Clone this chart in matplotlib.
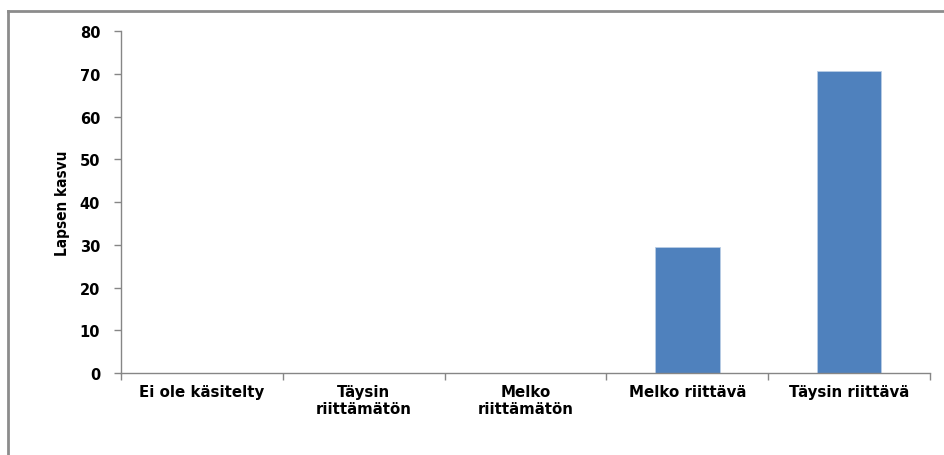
import matplotlib.pyplot as plt
import numpy as np
from matplotlib.lines import Line2D

categories = ['Ei ole käsitelty', 'Täysin\nriittämätön', 'Melko\nriittämätön',
              'Melko riittävä', 'Täysin riittävä']
values = [0, 0, 0, 29.4, 70.6]
yticks = [0, 10, 20, 30, 40, 50, 60, 70, 80]

fig = plt.figure(figsize=(9.44, 4.56), dpi=100)
ax = fig.add_axes([0.1282, 0.1798, 0.8568, 0.75])

x = np.arange(len(categories))
ax.bar(x, values, width=0.4, color='#4f81bd', edgecolor='#b9cde5', linewidth=0.6)

ax.set_xlim(-0.5, len(categories) - 0.5)
ax.set_ylim(0, 80)
ax.set_yticks(yticks)
ax.set_yticklabels([str(v) for v in yticks], fontsize=10.5, fontweight='bold',
                   family='DejaVu Sans')

# category labels between boundary ticks
ax.set_xticks(x)
ax.set_xticklabels(categories, fontsize=10.8, fontweight='bold', family='DejaVu Sans',
                   linespacing=1.15, va='top')
ax.tick_params(axis='x', length=0, pad=8)
ax.set_xticks(np.arange(len(categories) + 1) - 0.5, minor=True)
ax.tick_params(axis='x', which='minor', length=5, color='#868686', width=1)
ax.tick_params(axis='y', length=5, color='#868686', width=1, pad=10)

for s in ['top', 'right']:
    ax.spines[s].set_visible(False)
for s in ['left', 'bottom']:
    ax.spines[s].set_color('#868686')
    ax.spines[s].set_linewidth(1)

ax.set_ylabel('Lapsen kasvu', fontsize=11, fontweight='bold',
              family='DejaVu Sans', fontstretch='condensed', labelpad=7)

# outer chart border (top and left only visible)
fig.add_artist(Line2D([0.0085, 1.0], [0.974, 0.974], color='#8c8c8c', lw=2))
fig.add_artist(Line2D([0.0085, 0.0085], [0.0, 0.974], color='#8c8c8c', lw=2))

fig.savefig('out.png', dpi=100)
